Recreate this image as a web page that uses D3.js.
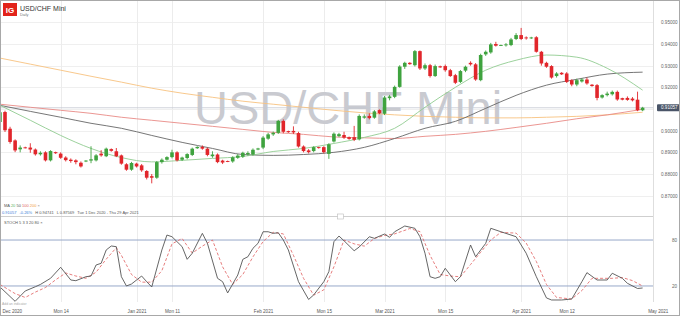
<!DOCTYPE html>
<html lang="en">
<head>
<meta charset="UTF-8">
<title>USD/CHF Mini</title>
<script src="https://d3js.org/d3.v7.min.js"></script>
<style>
body { margin:0; background:#fff; }
svg text { font-family: "Liberation Sans", Arial, sans-serif; }
</style>
</head>
<body>
<script>
// daily candles, Mon 30 Nov 2020 (k=-1) to Thu 29 Apr 2021 (k=126), Sundays included
var open = [.9040,.9086,.9009,.8955,.8914,.8923,.8922,.8913,.8891,.8900,.8863,.8901,.8894,.8876,.8866,.8863,.8852,.8858,.8862,.8863,.8894,.8882,.8915,.8905,.8886,.8845,.8820,.8848,.8840,.8814,.8790,.8783,.8855,.8866,.8878,.8900,.8866,.8874,.8888,.8919,.8925,.8917,.8882,.8890,.8862,.8860,.8858,.8875,.8880,.8891,.8890,.8913,.8922,.8963,.8983,.8990,.9045,.8998,.8999,.8989,.8927,.8909,.8906,.8924,.8924,.8893,.8950,.8975,.8980,.8970,.8970,.8960,.9060,.9068,.9060,.9095,.9078,.9150,.9156,.9202,.9295,.9313,.9302,.9367,.9287,.9302,.9252,.9297,.9298,.9279,.9256,.9225,.9277,.9313,.9306,.9233,.9352,.9361,.9400,.9393,.9394,.9395,.9423,.9441,.9430,.9426,.9431,.9364,.9313,.9298,.9252,.9267,.9264,.9233,.9213,.9227,.9236,.9212,.9210,.9153,.9164,.9168,.9179,.9150,.9151,.9148,.9143,.9094];
var high = [.9092,.9092,.9018,.8960,.8932,.8926,.8942,.8918,.8905,.8905,.8910,.8903,.8900,.8882,.8872,.8868,.8858,.8864,.8928,.8892,.8910,.8922,.8918,.8920,.8890,.8850,.8856,.8852,.8846,.8818,.8800,.8860,.8872,.8882,.8912,.8905,.8880,.8896,.8922,.8928,.8932,.8922,.8905,.8895,.8866,.8862,.8882,.8892,.8903,.8905,.8918,.8921,.8975,.8990,.8996,.9050,.9052,.9000,.9020,.8995,.8932,.8915,.8928,.8926,.8928,.8942,.8992,.8990,.8995,.8973,.9022,.9075,.9075,.9080,.9095,.9098,.9160,.9165,.9208,.9302,.9318,.9316,.9372,.9370,.9310,.9308,.9305,.9300,.9305,.9285,.9262,.9280,.9300,.9320,.9312,.9355,.9370,.9405,.9410,.9397,.9404,.9428,.9450,.9474,.9435,.9433,.9436,.9368,.9318,.9302,.9270,.9270,.9270,.9237,.9240,.9242,.9245,.9215,.9215,.9168,.9180,.9185,.9185,.9152,.9158,.9155,.9180,.9110];
var low = [.9036,.8994,.8940,.8901,.8900,.8918,.8898,.8885,.8885,.8858,.8858,.8893,.8870,.8858,.8852,.8845,.8830,.8855,.8850,.8858,.8880,.8878,.8903,.8878,.8843,.8815,.8815,.8830,.8810,.8775,.8757,.8778,.8848,.8862,.8872,.8858,.8860,.8868,.8883,.8916,.8912,.8882,.8875,.8850,.8846,.8855,.8852,.8870,.8874,.8885,.8885,.8910,.8915,.8958,.8976,.8985,.8988,.8990,.8985,.8922,.8900,.8895,.8900,.8917,.8895,.8870,.8945,.8970,.8962,.8958,.8952,.8955,.9055,.9052,.9055,.9076,.9072,.9140,.9150,.9198,.9285,.9304,.9296,.9280,.9280,.9245,.9248,.9290,.9272,.9248,.9215,.9220,.9270,.9300,.9230,.9228,.9345,.9355,.9388,.9391,.9388,.9390,.9418,.9418,.9420,.9423,.9360,.9300,.9290,.9240,.9245,.9257,.9220,.9205,.9205,.9222,.9212,.9203,.9140,.9148,.9158,.9162,.9138,.9140,.9138,.9135,.9090,.9090];
var close = [.9085,.9002,.8948,.8909,.8922,.8921,.8913,.8891,.8898,.8863,.8906,.8896,.8875,.8864,.8860,.8855,.8835,.8862,.8868,.8886,.8886,.8917,.8907,.8882,.8848,.8820,.8851,.8835,.8817,.8783,.8783,.8855,.8866,.8878,.8900,.8863,.8876,.8892,.8917,.8925,.8917,.8888,.8890,.8855,.8853,.8857,.8877,.8885,.8898,.8897,.8912,.8918,.8968,.8983,.8990,.9045,.8995,.8993,.8992,.8927,.8906,.8901,.8924,.8920,.8901,.8937,.8986,.8984,.8968,.8962,.8958,.9068,.9066,.9058,.9089,.9080,.9153,.9158,.9202,.9296,.9313,.9307,.9367,.9287,.9302,.9252,.9298,.9292,.9279,.9252,.9221,.9275,.9295,.9306,.9236,.9349,.9364,.9398,.9392,.9395,.9398,.9421,.9441,.9423,.9426,.9430,.9364,.9310,.9295,.9245,.9264,.9260,.9225,.9213,.9233,.9236,.9218,.9206,.9151,.9164,.9171,.9179,.9144,.9143,.9142,.9140,.9094,.9106];

// moving averages at these candle positions
var maIdx = [-1, 5, 11, 17, 23, 29, 35, 41, 47, 53, 59, 65, 71, 77, 83, 89, 95, 101, 107, 113, 119, 126];
var ma20 = [.9117,.9048,.8978,.8918,.8876,.8856,.8863,.8872,.8881,.8904,.8918,.8941,.8969,.9011,.9108,.9200,.9279,.9325,.9349,.9339,.9288,.9187];
var ma50 = [.9117,.9089,.9062,.9034,.9011,.8978,.8946,.8918,.8890,.8886,.8890,.8900,.8923,.8964,.9011,.9043,.9103,.9163,.9210,.9237,.9261,.9270];
var ma100 = [.9122,.9108,.9094,.9080,.9062,.9048,.9034,.9020,.9006,.8992,.8983,.8971,.8967,.8964,.8974,.8983,.8997,.9015,.9034,.9055,.9073,.9099];
var ma200 = [.9335,.9307,.9279,.9251,.9224,.9196,.9173,.9154,.9136,.9122,.9108,.9094,.9082,.9073,.9066,.9062,.9059,.9059,.9062,.9066,.9073,.9085];

// stochastic 5,3,3
var kIdx = [-1,2,4,6,7,9,11,13,14,16,17,18,19,20,21,22,23,24,25,27,28,29,31,32,33,35,36,37,39,40,42,43,44,46,47,48,49,50,51,52,53,54,55,56,58,60,61,63,64,65,66,67,69,70,72,73,75,76,77,79,81,82,83,84,85,86,87,89,90,92,93,95,96,98,101,103,105,107,108,110,112,114,115,117,119,120,122,123,125,126];
var stochK = [18.7,0,13.5,19,22,30,44.4,27.8,26.9,32.1,33,47.4,49.6,67,72.2,71.3,32.1,20,22.6,33,25.6,18.7,67,86.5,84.3,71.3,54.8,62.7,88.7,75.7,30,25.6,10.9,34.3,54.8,58.2,69.2,75.7,90.8,90.8,88.7,89.5,80,67,25.6,2.4,8.3,25.6,38.7,77.8,85.2,79,66,70.9,84.3,82.2,87.8,83.5,90.8,98.3,95.3,84.3,62.7,32.1,30,32.1,43.1,25.6,32.1,73.5,58.2,75.7,95.3,90.8,84.3,62.7,32.1,4.4,1.7,1.7,3,25.6,37.4,27.8,27.8,36.6,30,23.5,16.7,17.4];
var dIdx = [-1,2,4,6,8,10,12,14,16,18,20,22,23,25,27,29,31,33,35,37,39,41,43,45,47,49,51,53,55,57,59,61,63,65,67,69,71,73,75,77,80,82,84,86,88,90,92,94,96,98,101,103,105,107,109,112,114,116,118,120,122,124,126];
var stochD = [22,10,5,12,18,28,37,33,30,38,55,70,60,35,25,25,40,75,82,63,72,80,45,22,35,58,78,90,88,60,30,8,15,45,80,75,72,82,86,88,95,91,60,35,33,32,48,64,80,90,89,76,52,22,5,3,14,30,30,30,31,27,20];

var priceTicks = [0.87, 0.88, 0.89, 0.90, 0.91, 0.92, 0.93, 0.94, 0.95];
var priceLabels = [0.87, 0.88, 0.89, 0.90, 0.92, 0.93, 0.94, 0.95];
var dateIdx = [0, 11, 26, 33, 51, 63, 75, 87, 102, 111, 129];
var dateLabels = ["Dec 2020","Mon 14","Jan 2021","Mon 11","Feb 2021","Mon 15","Mar 2021","Mon 15","Apr 2021","Mon 12","May 2021"];
var lastPrice = 0.91057;

var w = 680, h = 316, axisX = 653;

var svg = d3.select("body").append("svg")
    .attr("width", w).attr("height", h);

var x = d3.scaleLinear().domain([0, 126]).range([5, 642.6]);
var y = d3.scaleLinear().domain([0.87, 0.95]).range([195.7, 22.3]);
var ys = d3.scaleLinear().domain([0, 100]).range([301.3, 224.7]);

var defs = svg.append("defs");
defs.append("clipPath").attr("id", "cm").append("rect")
    .attr("x", 0).attr("y", 0).attr("width", axisX).attr("height", 202);
defs.append("clipPath").attr("id", "cs").append("rect")
    .attr("x", 0).attr("y", 218).attr("width", axisX).attr("height", 86);

// grid
svg.selectAll(".hg").data(priceTicks).enter().append("line")
    .attr("x1", 0).attr("x2", axisX)
    .attr("y1", function(d){ return Math.round(y(d)) + 0.5; })
    .attr("y2", function(d){ return Math.round(y(d)) + 0.5; })
    .attr("stroke", "#efefef");
svg.selectAll(".vg").data(dateIdx.filter(function(d){ return d > 0 && x(d) < axisX; }))
    .enter().append("line")
    .attr("x1", function(d){ return Math.round(x(d)) + 0.5; })
    .attr("x2", function(d){ return Math.round(x(d)) + 0.5; })
    .attr("y1", 0).attr("y2", 302)
    .attr("stroke", "#ececec");
svg.append("line").attr("x1", axisX + 0.5).attr("x2", axisX + 0.5)
    .attr("y1", 0).attr("y2", 302).attr("stroke", "#dedede");

// watermark
svg.append("text").attr("x", 194).attr("y", 123.5)
    .attr("font-size", 47).attr("fill", "#c9cad0")
    .text("USD/CHF Mini");

// last price line
svg.append("line").attr("x1", 0).attr("x2", axisX)
    .attr("y1", y(lastPrice)).attr("y2", y(lastPrice))
    .attr("stroke", "#c4c8d2").attr("stroke-width", 0.8);

var main = svg.append("g").attr("clip-path", "url(#cm)");

var maLine = function(vals){
    return d3.line().curve(d3.curveMonotoneX)
        .x(function(d, i){ return x(maIdx[i]); })
        .y(function(d){ return y(d); })(vals);
};
[[ma200, "#f7c27f"], [ma100, "#e98a86"], [ma50, "#666"], [ma20, "#91cc91"]].forEach(function(m){
    main.append("path").attr("d", maLine(m[0]))
        .attr("fill", "none").attr("stroke", m[1]).attr("stroke-width", 0.9);
});

var candles = open.map(function(o, i){
    return { k: i - 1, o: o, h: high[i], l: low[i], c: close[i] };
});
var col = function(d){ return d.c >= d.o ? "#3fa33f" : "#e1262b"; };

main.selectAll(".wick").data(candles).enter().append("line")
    .attr("x1", function(d){ return x(d.k); })
    .attr("x2", function(d){ return x(d.k); })
    .attr("y1", function(d){ return y(d.h); })
    .attr("y2", function(d){ return y(d.l); })
    .attr("stroke", col).attr("stroke-width", 0.9);
main.selectAll(".body").data(candles).enter().append("rect")
    .attr("x", function(d){ return x(d.k) - 1.8; })
    .attr("width", 3.6)
    .attr("y", function(d){ return y(Math.max(d.o, d.c)); })
    .attr("height", function(d){ return Math.max(0.9, Math.abs(y(d.o) - y(d.c))); })
    .attr("fill", col);

// price axis
var ay = svg.append("g").attr("transform", "translate(659,0)")
    .call(d3.axisRight(y).tickValues(priceLabels).tickFormat(d3.format(".5f")).tickSize(0).tickPadding(2));
ay.select(".domain").remove();
ay.selectAll("text").attr("font-size", 4.6).attr("fill", "#666")
    .attr("font-family", "Liberation Sans, Arial, sans-serif");

svg.append("rect").attr("x", 657).attr("y", y(lastPrice) - 3.6)
    .attr("width", 23).attr("height", 7.2).attr("rx", 1).attr("fill", "#4a5568");
svg.append("text").attr("x", 661).attr("y", y(lastPrice) + 1.6)
    .attr("font-size", 4.6).attr("fill", "#fff").text(d3.format(".5f")(lastPrice));

// header
svg.append("rect").attr("x", 3).attr("y", 3).attr("width", 14).attr("height", 13).attr("fill", "#e2231a");
svg.append("text").attr("x", 10).attr("y", 12.6).attr("text-anchor", "middle")
    .attr("font-size", 8).attr("font-weight", "bold").attr("fill", "#fff").text("IG");
svg.append("text").attr("x", 20).attr("y", 10.5).attr("font-size", 7).attr("fill", "#333").text("USD/CHF Mini");
svg.append("text").attr("x", 20).attr("y", 16.2).attr("font-size", 3.8).attr("fill", "#777").text("Daily");

// legends
var lg = svg.append("text").attr("x", 4).attr("y", 207).attr("font-size", 4).attr("fill", "#555");
lg.append("tspan").text("MA ");
lg.append("tspan").attr("fill", "#5cb85c").text("20 ");
lg.append("tspan").attr("fill", "#555").text("50 ");
lg.append("tspan").attr("fill", "#e06060").text("100 ");
lg.append("tspan").attr("fill", "#f0a040").text("200 ");
lg.append("tspan").attr("fill", "#888").text(" \u00d7");

var vl = svg.append("text").attr("x", 2).attr("y", 214).attr("font-size", 4).attr("fill", "#555");
vl.append("tspan").attr("fill", "#3b7dd8").text("0.91057");
vl.append("tspan").attr("dx", 3).attr("fill", "#3b7dd8").text("-0.26%");
vl.append("tspan").attr("dx", 3).text("H 0.94741");
vl.append("tspan").attr("dx", 3).text("L 0.87569");
vl.append("tspan").attr("dx", 3).text("Tue 1 Dec 2020 - Thu 29 Apr 2021");

// stochastic panel
svg.append("line").attr("x1", 0).attr("x2", axisX).attr("y1", 216.5).attr("y2", 216.5).attr("stroke", "#cfcfcf");
svg.append("rect").attr("x", 337.5).attr("y", 214).attr("width", 6).attr("height", 5)
    .attr("fill", "#fff").attr("stroke", "#bbb").attr("stroke-width", 0.6);
svg.append("text").attr("x", 4).attr("y", 224).attr("font-size", 4).attr("fill", "#555")
    .text("STOCH  5  3  3  20  80  \u00d7");

svg.selectAll(".lvl").data([20, 80]).enter().append("line")
    .attr("x1", 0).attr("x2", axisX)
    .attr("y1", function(d){ return ys(d); }).attr("y2", function(d){ return ys(d); })
    .attr("stroke", "#97a9c9").attr("stroke-width", 1);
var as = svg.append("g").attr("transform", "translate(670,0)")
    .call(d3.axisRight(ys).tickValues([20, 80]).tickSize(0).tickPadding(2));
as.select(".domain").remove();
as.selectAll("text").attr("font-size", 4.6).attr("fill", "#666")
    .attr("font-family", "Liberation Sans, Arial, sans-serif");

var st = svg.append("g").attr("clip-path", "url(#cs)");
st.append("path")
    .attr("d", d3.line().x(function(d, i){ return x(dIdx[i]); }).y(function(d){ return ys(d); })(stochD))
    .attr("fill", "none").attr("stroke", "#e36f6f").attr("stroke-width", 0.9).attr("stroke-dasharray", "3,2");
st.append("path")
    .attr("d", d3.line().x(function(d, i){ return x(kIdx[i]); }).y(function(d){ return ys(d); })(stochK))
    .attr("fill", "none").attr("stroke", "#555").attr("stroke-width", 0.9);

// date axis
var ax = svg.append("g").attr("transform", "translate(0,308)")
    .call(d3.axisBottom(x).tickValues(dateIdx).tickFormat(function(d, i){ return dateLabels[i]; }).tickSize(0).tickPadding(2));
ax.select(".domain").remove();
ax.selectAll("text").attr("font-size", 4.6).attr("fill", "#555")
    .attr("font-family", "Liberation Sans, Arial, sans-serif");
ax.selectAll(".tick").filter(function(d){ return d === 0; }).select("text")
    .attr("text-anchor", "start").attr("x", -3);

svg.append("text").attr("x", 2).attr("y", 305).attr("font-size", 3.4).attr("fill", "#aaa").text("Add an indicator");

// frame
svg.append("rect").attr("x", 0.5).attr("y", 0.5).attr("width", w - 1).attr("height", h - 1)
    .attr("fill", "none").attr("stroke", "#a8a8a8");
</script>
</body>
</html>
